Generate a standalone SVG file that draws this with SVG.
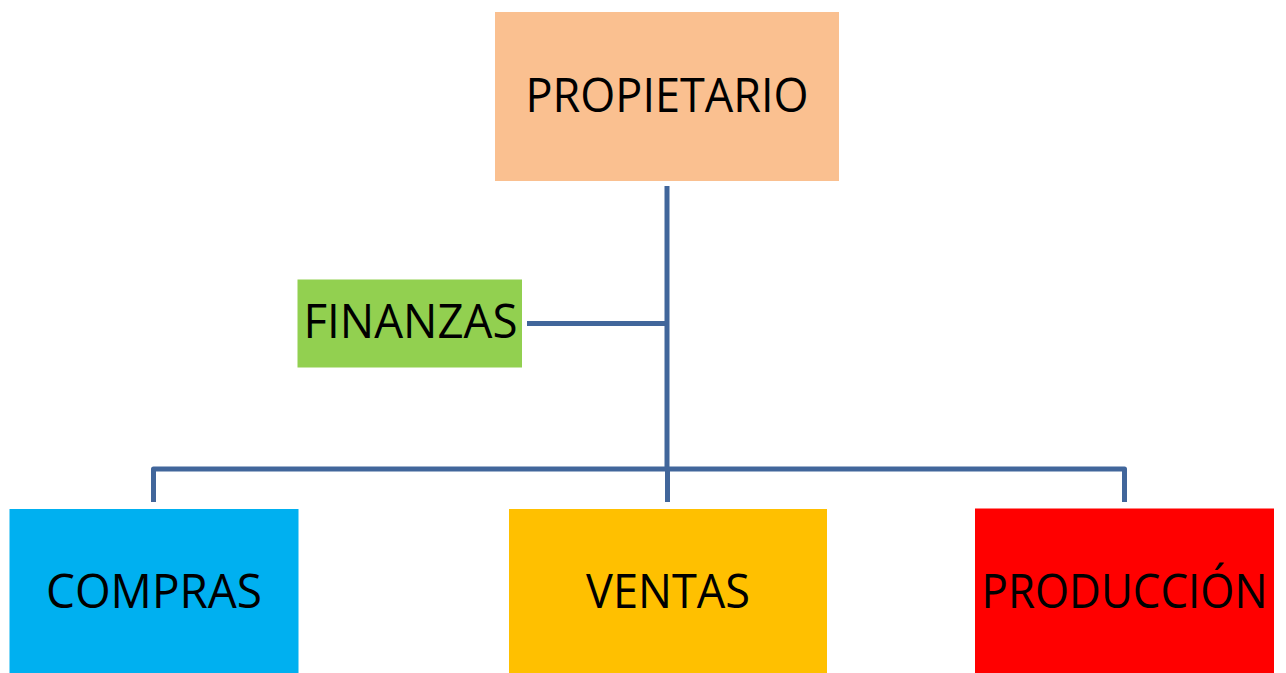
<svg xmlns="http://www.w3.org/2000/svg" width="1286" height="673" viewBox="0 0 1286 673">
<style>
.lbl{font-family:"Open Sans","Liberation Sans",sans-serif;font-size:48px;fill:#000;text-anchor:middle}
.conn{stroke:#41669b;stroke-width:5;fill:none;stroke-linejoin:round}
</style>
<rect width="1286" height="673" fill="#fff"/>
<g id="connectors">
<path class="conn" d="M667 186 V470"/>
<path class="conn" d="M527 323.5 H667"/>
<path class="conn" d="M153.5 502 V469 H1124.5 V502"/>
<path class="conn" d="M667.5 469 V502"/>
</g>
<g id="propietario">
<rect x="495" y="12" width="344" height="169" fill="#fac090"/>
<text class="lbl" x="667" y="112" textLength="283" lengthAdjust="spacingAndGlyphs">PROPIETARIO</text>
</g>
<g id="finanzas">
<rect x="297.5" y="279.5" width="224.5" height="88" fill="#92d050"/>
<text class="lbl" x="410.5" y="338" textLength="214" lengthAdjust="spacingAndGlyphs">FINANZAS</text>
</g>
<g id="compras">
<rect x="9.5" y="509" width="289" height="164" fill="#00b0f0"/>
<text class="lbl" x="154" y="608" textLength="216" lengthAdjust="spacingAndGlyphs">COMPRAS</text>
</g>
<g id="ventas">
<rect x="509" y="509" width="318" height="164" fill="#ffc000"/>
<text class="lbl" x="668" y="608" textLength="164" lengthAdjust="spacingAndGlyphs">VENTAS</text>
</g>
<g id="produccion">
<rect x="975" y="508.5" width="299" height="164.5" fill="#ff0000"/>
<text class="lbl" x="1124.5" y="608" textLength="286" lengthAdjust="spacingAndGlyphs">PRODUCCIÓN</text>
</g>
</svg>
